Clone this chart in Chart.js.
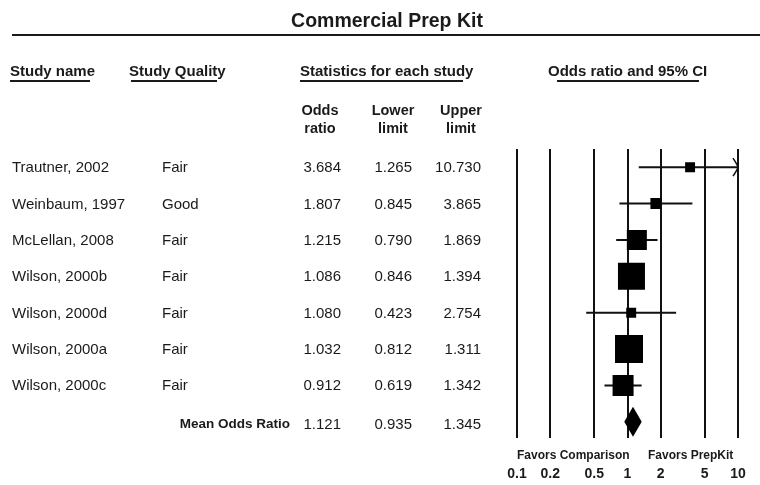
<!DOCTYPE html>
<html>
<head>
<meta charset="utf-8">
<script src="https://cdn.jsdelivr.net/npm/chart.js@4.4.1/dist/chart.umd.min.js"></script>
<style>
  html, body { margin: 0; padding: 0; background: #fff; }
  #wrap { position: relative; width: 760px; height: 485px; overflow: hidden;
          font-family: "Liberation Sans", Arial, Helvetica, sans-serif; color: #1a1a1a; }
  #wrap canvas { position: absolute; left: 0; top: 0; }
  .t { position: absolute; white-space: nowrap; line-height: 18px; }
  .b { font-weight: bold; }
  .rule { position: absolute; background: #1a1a1a; }
</style>
</head>
<body>
<div id="wrap">
  <canvas id="myChart" width="760" height="485"></canvas>
</div>
<script>
// forest plot data
const studies = ['Trautner, 2002', 'Weinbaum, 1997', 'McLellan, 2008', 'Wilson, 2000b',
                 'Wilson, 2000d', 'Wilson, 2000a', 'Wilson, 2000c'];
const quality = ['Fair', 'Good', 'Fair', 'Fair', 'Fair', 'Fair', 'Fair'];
const oddsRatio = [3.684, 1.807, 1.215, 1.086, 1.080, 1.032, 0.912];
const lowerLimit = [1.265, 0.845, 0.790, 0.846, 0.423, 0.812, 0.619];
const upperLimit = [10.730, 3.865, 1.869, 1.394, 2.754, 1.311, 1.342];
const weights = [3.7, 4.5, 15.0, 27.3, 3.7, 29.3, 16.5]; // relative weight %
const meanStats = [1.121, 0.935, 1.345]; // odds ratio, lower, upper
const tickValues = [0.1, 0.2, 0.5, 1, 2, 5, 10];
const tickLabels = ['0.1', '0.2', '0.5', '1', '2', '5', '10'];

const wrap = document.getElementById('wrap');
function addText(txt, x, y, opts) {
    opts = opts || {};
    const d = document.createElement('div');
    d.className = 't' + (opts.bold ? ' b' : '');
    d.textContent = txt;
    d.style.fontSize = (opts.size || 15) + 'px';
    if (opts.align === 'right') {
        d.style.left = (x - 200) + 'px';
        d.style.width = '200px';
        d.style.textAlign = 'right';
    } else if (opts.align === 'center') {
        d.style.left = (x - 100) + 'px';
        d.style.width = '200px';
        d.style.textAlign = 'center';
    } else {
        d.style.left = x + 'px';
    }
    d.style.top = (y - 9) + 'px';
    wrap.appendChild(d);
}
function addRule(x, y, w, h) {
    const r = document.createElement('div');
    r.className = 'rule';
    r.style.left = x + 'px';
    r.style.top = y + 'px';
    r.style.width = w + 'px';
    r.style.height = h + 'px';
    wrap.appendChild(r);
}

// one line dataset per confidence interval
const ciSets = studies.map((s, i) => ({
    label: s,
    data: [{x: lowerLimit[i], y: i}, {x: upperLimit[i], y: i}],
    showLine: true,
    borderColor: '#111',
    borderWidth: 2,
    pointRadius: 0,
    clip: 0,
    order: 1
}));
const boxSide = weights.map(w => 5.17 * Math.sqrt(w));

const extras = {
    id: 'extras',
    afterDatasetsDraw(chart) {
        const c = chart.ctx, xs = chart.scales.x, ys = chart.scales.y;
        c.save();
        // arrow where the interval runs past the axis
        upperLimit.forEach((u, i) => {
            if (u > xs.max) {
                const x = xs.getPixelForValue(xs.max), y = ys.getPixelForValue(i);
                c.strokeStyle = '#111';
                c.lineWidth = 1.5;
                c.beginPath();
                c.moveTo(x - 5, y - 9);
                c.quadraticCurveTo(x - 1, y - 3, x, y);
                c.quadraticCurveTo(x - 1, y + 3, x - 5, y + 9);
                c.stroke();
            }
        });
        // summary diamond
        const yM = ys.getPixelForValue(studies.length);
        c.fillStyle = '#000';
        c.beginPath();
        c.moveTo(xs.getPixelForValue(meanStats[1]), yM);
        c.lineTo(xs.getPixelForValue(meanStats[0]), yM - 15);
        c.lineTo(xs.getPixelForValue(meanStats[2]), yM);
        c.lineTo(xs.getPixelForValue(meanStats[0]), yM + 15);
        c.closePath();
        c.fill();
        c.restore();
    }
};

const ctx = document.getElementById('myChart').getContext('2d');
const myChart = new Chart(ctx, {
    type: 'scatter',
    data: {
        datasets: ciSets.concat([{
            label: 'Odds ratio',
            data: oddsRatio.map((v, i) => ({x: v, y: i})),
            pointStyle: 'rect',
            pointRadius: boxSide.map(s => s / 2 / Math.SQRT1_2),
            backgroundColor: '#000',
            borderWidth: 0,
            order: 0
        }])
    },
    options: {
        responsive: false,
        animation: false,
        devicePixelRatio: 1,
        layout: {
            padding: { left: 517, right: 22, top: 149, bottom: 2 }
        },
        plugins: {
            legend: { display: false },
            tooltip: { enabled: false }
        },
        scales: {
            x: {
                type: 'logarithmic',
                min: 0.1,
                max: 10,
                afterBuildTicks: (axis) => { axis.ticks = tickValues.map(v => ({value: v})); },
                afterFit: (axis) => { axis.paddingLeft = 0; axis.paddingRight = 0; },
                ticks: {
                    autoSkip: false,
                    maxRotation: 0,
                    padding: 0,
                    color: '#1a1a1a',
                    font: { family: 'Liberation Sans', size: 14, weight: 'bold' },
                    callback: (v) => tickLabels[tickValues.indexOf(v)]
                },
                grid: { color: '#111', lineWidth: 2, drawTicks: true, tickLength: 28,
                        tickColor: 'rgba(0,0,0,0)' },
                border: { display: false }
            },
            y: {
                type: 'linear',
                display: false,
                reverse: true,
                min: -0.5,
                max: 7.45
            }
        }
    },
    plugins: [extras]
});

// title and header
addText('Commercial Prep Kit', 387, 20, {bold: true, size: 19.5, align: 'center'});
addRule(12, 34, 748, 2);
addText('Study name', 10, 71, {bold: true});
addRule(10, 80, 80, 2);
addText('Study Quality', 129, 71, {bold: true});
addRule(131, 80, 86, 2);
addText('Statistics for each study', 300, 71, {bold: true});
addRule(300, 80, 163, 2);
addText('Odds ratio and 95% CI', 548, 71, {bold: true});
addRule(557, 80, 142, 2);
[['Odds', 'ratio', 320], ['Lower', 'limit', 393], ['Upper', 'limit', 461]].forEach(h => {
    addText(h[0], h[2], 110, {bold: true, size: 14.5, align: 'center'});
    addText(h[1], h[2], 128, {bold: true, size: 14.5, align: 'center'});
});

// rows, placed on the chart's own y scale
const ys = myChart.scales.y;
studies.forEach((s, i) => {
    const y = ys.getPixelForValue(i);
    addText(s, 12, y);
    addText(quality[i], 162, y);
    addText(oddsRatio[i].toFixed(3), 341, y, {align: 'right'});
    addText(lowerLimit[i].toFixed(3), 412, y, {align: 'right'});
    addText(upperLimit[i].toFixed(3), 481, y, {align: 'right'});
});
const yMean = ys.getPixelForValue(studies.length) + 2;
addText('Mean Odds Ratio', 290, yMean, {bold: true, size: 13.5, align: 'right'});
addText(meanStats[0].toFixed(3), 341, yMean, {align: 'right'});
addText(meanStats[1].toFixed(3), 412, yMean, {align: 'right'});
addText(meanStats[2].toFixed(3), 481, yMean, {align: 'right'});

addText('Favors Comparison', 517, 455, {bold: true, size: 12});
addText('Favors PrepKit', 648, 455, {bold: true, size: 12});
</script>
</body>
</html>
